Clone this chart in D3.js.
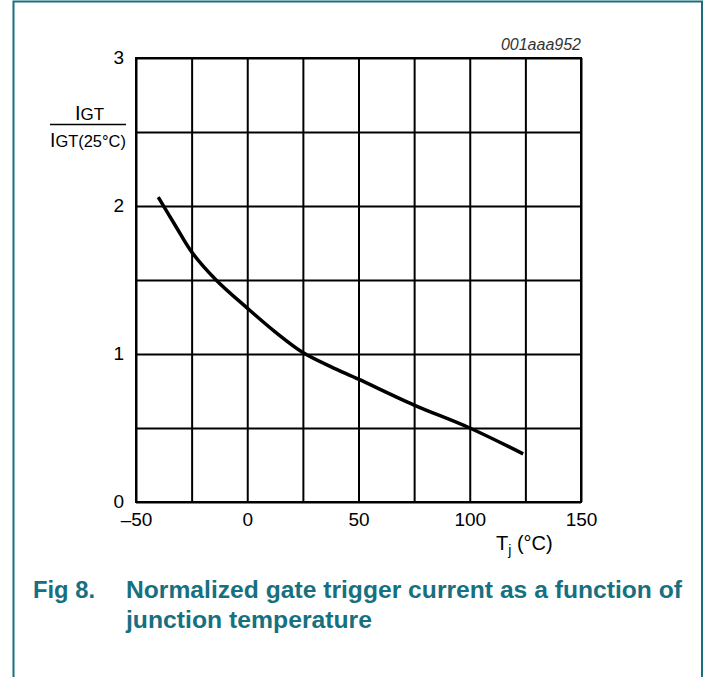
<!DOCTYPE html>
<html lang="en">
  <head>
    <meta charset="UTF-8" />
    <title>Normalized gate trigger current</title>
    <script src="https://cdn.jsdelivr.net/npm/d3@7"></script>
    <style>
      body {
        margin: 0;
        background-color: #ffffff;
        font-family: Arial, "Liberation Sans", sans-serif;
      }
    </style>
  </head>
  <body>
    <div id="igt_chart"></div>

    <script>
      // Data (Tj in °C, IGT / IGT(25°C))
      const temperature = [-40, -32, -25, -14, 0, 12.5, 25, 37.5, 50, 75, 100, 124];
      const igtRatio = [2.06, 1.86, 1.69, 1.5, 1.31, 1.15, 1.01, 0.915, 0.83, 0.655, 0.5, 0.325];

      const xTicks = [-50, 0, 50, 100, 150];
      const yTicks = [0, 1, 2, 3];
      const xGrid = [-50, -25, 0, 25, 50, 75, 100, 125, 150];
      const yGrid = [0, 0.5, 1, 1.5, 2, 2.5, 3];

      const teal = "#17707f";

      plotGraph();

      function plotGraph() {
        const W = 712,
          H = 677;
        const margin = { top: 58, right: 131, bottom: 175, left: 136 };
        const width = W - margin.left - margin.right; // 445
        const height = H - margin.top - margin.bottom; // 444

        const root = d3
          .select("#igt_chart")
          .append("svg")
          .attr("width", W)
          .attr("height", H);

        // teal frame round the figure
        root
          .append("rect")
          .attr("x", 13.5)
          .attr("y", 1.5)
          .attr("width", 702 - 13.5)
          .attr("height", H + 10)
          .attr("fill", "none")
          .attr("stroke", teal)
          .attr("stroke-width", 2);

        const svg = root
          .append("g")
          .attr("transform", `translate(${margin.left},${margin.top})`);

        const x = d3.scaleLinear().domain([-50, 150]).range([0, width]);
        const y = d3.scaleLinear().domain([0, 3]).range([height, 0]);

        // grid
        svg
          .append("g")
          .call(
            d3
              .axisBottom(x)
              .tickValues(xGrid)
              .tickSizeInner(height)
              .tickSizeOuter(0)
              .tickFormat("")
          )
          .call((g) => g.select(".domain").remove())
          .selectAll("line")
          .attr("stroke", "#000")
          .attr("stroke-width", 2);

        svg
          .append("g")
          .call(
            d3
              .axisLeft(y)
              .tickValues(yGrid)
              .tickSizeInner(-width)
              .tickSizeOuter(0)
              .tickFormat("")
          )
          .call((g) => g.select(".domain").remove())
          .selectAll("line")
          .attr("stroke", "#000")
          .attr("stroke-width", 2);

        svg
          .append("rect")
          .attr("width", width)
          .attr("height", height)
          .attr("fill", "none")
          .attr("stroke", "#000")
          .attr("stroke-width", 2);

        // tick labels
        const xAxis = svg
          .append("g")
          .attr("transform", `translate(0,${height})`)
          .call(
            d3
              .axisBottom(x)
              .tickValues(xTicks)
              .tickSize(0)
              .tickPadding(11)
              .tickFormat((d) => (d < 0 ? "\u2013" + Math.abs(d) : d))
          );
        xAxis.select(".domain").remove();
        xAxis
          .selectAll(".tick text")
          .attr("fill", "#000")
          .style("font-family", "Arial, 'Liberation Sans', sans-serif")
          .style("font-size", "19px");

        const yAxis = svg
          .append("g")
          .call(
            d3
              .axisLeft(y)
              .tickValues(yTicks)
              .tickSize(0)
              .tickPadding(12)
              .tickFormat(d3.format("d"))
          );
        yAxis.select(".domain").remove();
        yAxis
          .selectAll(".tick text")
          .attr("fill", "#000")
          .attr("dy", "0.28em")
          .style("font-family", "Arial, 'Liberation Sans', sans-serif")
          .style("font-size", "19px");

        // curve
        const points = temperature.map((t, i) => ({ t: t, v: igtRatio[i] }));
        svg
          .append("path")
          .datum(points)
          .attr("fill", "none")
          .attr("stroke", "#000")
          .attr("stroke-width", 3.5)
          .attr(
            "d",
            d3
              .line()
              .x((d) => x(d.t))
              .y((d) => y(d.v))
              .curve(d3.curveCatmullRom.alpha(0.5))
          );

        // code label
        root
          .append("text")
          .attr("x", 581)
          .attr("y", 50)
          .attr("text-anchor", "end")
          .style("font-style", "italic")
          .style("font-size", "16px")
          .attr("fill", "#333")
          .text("001aaa952");

        // y axis label as a fraction
        const yl = root.append("g").attr("fill", "#000");
        const top = yl.append("text").attr("x", 75).attr("y", 120);
        top.append("tspan").style("font-size", "20px").text("I");
        top.append("tspan").style("font-size", "17px").text("GT");
        yl.append("line")
          .attr("x1", 50)
          .attr("x2", 126)
          .attr("y1", 124.5)
          .attr("y2", 124.5)
          .attr("stroke", "#000")
          .attr("stroke-width", 1.5);
        const bot = yl
          .append("text")
          .attr("x", 50)
          .attr("y", 147)
          .attr("textLength", 76)
          .attr("lengthAdjust", "spacingAndGlyphs");
        bot.append("tspan").style("font-size", "20px").text("I");
        bot.append("tspan").style("font-size", "17px").text("GT(25°C)");

        // x axis label
        const xl = root
          .append("text")
          .attr("x", 496)
          .attr("y", 550)
          .attr("fill", "#000")
          .style("font-size", "20px");
        xl.append("tspan").text("T");
        xl.append("tspan")
          .attr("dy", 5)
          .style("font-size", "14px")
          .text("j");
        xl.append("tspan").attr("dy", -5).text(" (°C)");

        // caption
        const cap = root
          .append("g")
          .attr("fill", teal)
          .style("font-weight", "bold")
          .style("font-size", "23px");
        cap
          .append("text")
          .attr("x", 33)
          .attr("y", 598)
          .attr("textLength", 62)
          .attr("lengthAdjust", "spacingAndGlyphs")
          .text("Fig 8.");
        cap
          .append("text")
          .attr("x", 126)
          .attr("y", 598)
          .attr("textLength", 556)
          .attr("lengthAdjust", "spacingAndGlyphs")
          .text("Normalized gate trigger current as a function of");
        cap
          .append("text")
          .attr("x", 126)
          .attr("y", 628)
          .attr("textLength", 246)
          .attr("lengthAdjust", "spacingAndGlyphs")
          .text("junction temperature");
      }
    </script>
  </body>
</html>
